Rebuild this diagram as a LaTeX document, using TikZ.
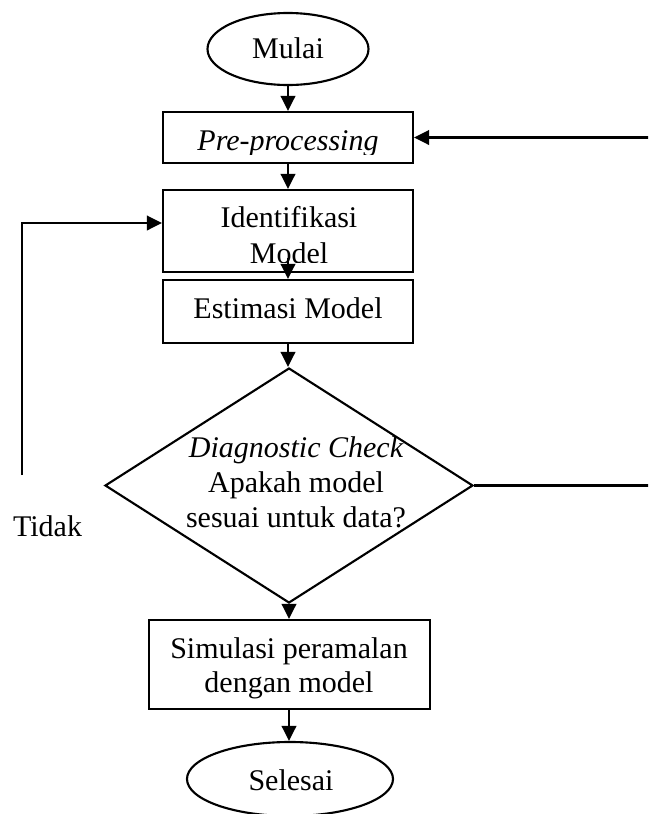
\documentclass[tikz,border=0pt]{standalone}
\usepackage{fontspec}
\setmainfont{Liberation Serif}
\usetikzlibrary{shapes.geometric,arrows.meta}

\begin{document}
\begin{tikzpicture}[x=0.4pt,y=-0.4pt, line width=0.85pt,
  box/.style={draw, rectangle, inner sep=0pt, minimum width=100pt},
  term/.style={draw, ellipse, inner sep=0pt},
  lbl/.style={anchor=base, inner sep=0pt, font=\fontsize{12}{14}\selectfont},
  flow/.style={-{Triangle[length=6pt,width=5.8pt]}}]
\useasboundingbox (0,0) rectangle (648,814);
\clip (0,0) rectangle (648,814);

% shapes of the flowchart
\node[term, minimum width=64.4pt, minimum height=28.8pt] (mulai) at (288,49) {};
\node[box, minimum height=20.4pt] (pre) at (288,137.5) {};
\node[box, minimum height=32.8pt] (ident) at (288,231) {};
\node[box, minimum height=25.2pt] (estim) at (288,311.5) {};
\node[draw, diamond, inner sep=0pt, minimum width=147.2pt, minimum height=94pt] (diag) at (289,485.5) {};
\node[box, minimum width=112.4pt, minimum height=35.6pt] (simul) at (289.5,664.5) {};
\node[term, minimum width=82.4pt, minimum height=29.6pt] (selesai) at (290,779) {};

% texts
\node[lbl] (tmulai) at (288,58) {Mulai};
\begin{scope}
  \clip (163,112) rectangle (413,154);
  \node[lbl] (tpre) at (288,150) {\itshape Pre-processing};
\end{scope}
\node[lbl] (tident1) at (289,227) {Identifikasi};
\begin{scope}
  \clip (163,230) rectangle (413,262);
  \node[lbl] (tident2) at (289,263) {Model};
\end{scope}
\node[lbl] (testim) at (288,318) {Estimasi Model};
\node[lbl] (tdiag1) at (296,457) {\itshape Diagnostic Check};
\node[lbl] (tdiag2) at (296,492) {Apakah model};
\node[lbl] (tdiag3) at (296,527) {sesuai untuk data?};
\node[lbl] (tsim1) at (289,658) {Simulasi peramalan};
\node[lbl] (tsim2) at (289,692) {dengan model};
\node[lbl] (tsel) at (291,790) {Selesai};
\node[lbl, anchor=base west] (tidak) at (12,536) {Tidak};

% main flow
\draw[flow] (mulai.south) -- (pre.north);
\draw[flow] (pre.south) -- (ident.north);
\coordinate (istart) at (288,258);
\draw[flow] (istart) -- (estim.north);
\draw[flow] (estim.south) -- (estim.south |- diag.north);
\draw[flow] (diag.south) -- (diag.south |- simul.north);
\draw[flow] (diag.south |- simul.south) -- (diag.south |- selesai.north);

% loop back to pre-processing
\coordinate (rb) at (660,485.5);
\coordinate (rt) at (660,137.5);
\draw[flow] (diag.east) -- (rb) -- (rt) -- (pre.east);

% loop back to model identification
\coordinate (lb) at (22,475);
\coordinate (lt) at (22,223);
\draw[flow] (lb) -- (lt) -- (lt -| ident.west);
\end{tikzpicture}
\end{document}
